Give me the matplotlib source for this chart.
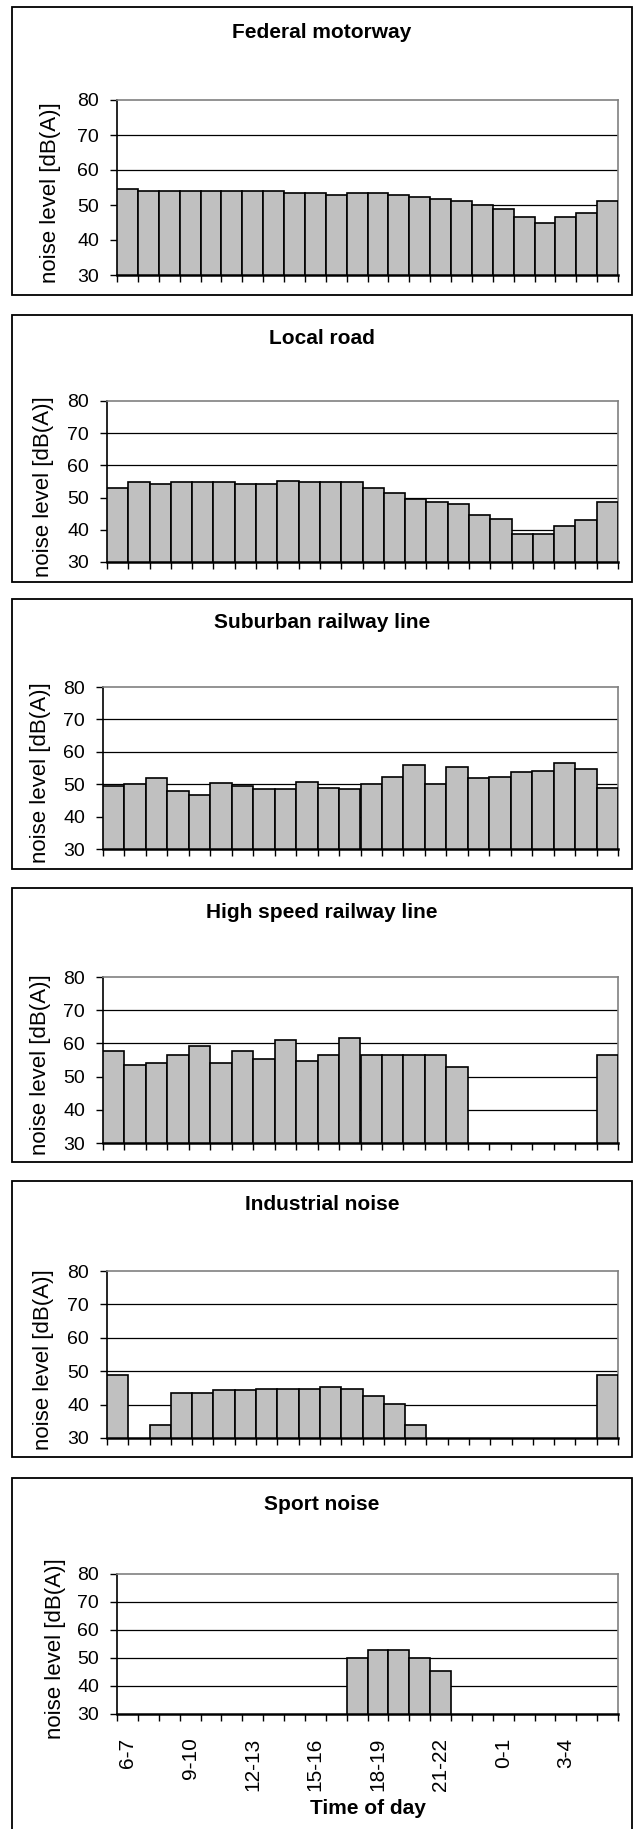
import numpy as np
import matplotlib
matplotlib.use("Agg")
import matplotlib.pyplot as plt
from matplotlib.patches import Rectangle

plt.rcParams['font.family'] = ['Liberation Sans', 'DejaVu Sans']

hours = ['6-7', '7-8', '8-9', '9-10', '10-11', '11-12', '12-13', '13-14', '14-15',
         '15-16', '16-17', '17-18', '18-19', '19-20', '20-21', '21-22', '22-23',
         '23-0', '0-1', '1-2', '2-3', '3-4', '4-5', '5-6']

titles = ['Federal motorway', 'Local road', 'Suburban railway line',
          'High speed railway line', 'Industrial noise', 'Sport noise']

nan = np.nan
federal_motorway = [54.6, 54.0, 54.0, 54.0, 54.0, 54.0, 54.0, 54.1, 53.5, 53.5, 53.0, 53.5,
                    53.5, 53.0, 52.4, 51.8, 51.2, 50.1, 49.0, 46.7, 45.0, 46.7, 47.8, 51.2]
local_road = [53.1, 54.8, 54.3, 54.8, 54.8, 54.8, 54.3, 54.3, 55.3, 54.8, 54.8, 54.8,
              53.1, 51.4, 49.6, 48.6, 48.0, 44.5, 43.3, 38.7, 38.7, 41.1, 42.9, 48.6]
suburban_rail = [49.5, 50.2, 51.8, 47.8, 46.6, 50.3, 49.4, 48.4, 48.4, 50.7, 48.9, 48.4,
                 50.1, 52.3, 55.9, 50.2, 55.2, 51.8, 52.3, 53.7, 54.2, 56.4, 54.7, 48.8]
high_speed_rail = [57.6, 53.6, 54.2, 56.5, 59.3, 54.2, 57.6, 55.3, 61.0, 54.8, 56.5, 61.7,
                   56.5, 56.5, 56.5, 56.5, 53.0, nan, nan, nan, nan, nan, nan, 56.5]
industrial = [48.8, nan, 33.9, 43.6, 43.6, 44.3, 44.3, 44.8, 44.8, 44.8, 45.3, 44.8,
              42.5, 40.2, 33.9, nan, nan, nan, nan, nan, nan, nan, nan, 48.8]
sport = [nan, nan, nan, nan, nan, nan, nan, nan, nan, nan, nan, 50.0,
         53.0, 53.0, 50.0, 45.2, nan, nan, nan, nan, nan, nan, nan, nan]

series = [federal_motorway, local_road, suburban_rail, high_speed_rail, industrial, sport]
yticks = [30, 40, 50, 60, 70, 80]

W, H = 636, 1829
# layout in pixels: panel box (top, bottom), plot area (left, top, bottom), title y, ylabel x
boxes = [(7, 295), (315, 582), (599, 869), (888, 1162), (1181, 1457), (1478, 1840)]
plots = [(117, 100, 275), (107, 401, 562), (103, 687, 849), (103, 977, 1143),
         (107, 1271, 1438), (117, 1574, 1714)]
title_y = [32, 338, 623, 913, 1205, 1505]
ylab_x = [51, 44, 41, 41, 44, 55]
plot_right = 618
box_l, box_r = 12, 632

fig = plt.figure(figsize=(W / 100, H / 100), dpi=100)

for i in range(6):
    bt, bb = boxes[i]
    fig.patches.append(Rectangle((box_l / W, 1 - bb / H), (box_r - box_l) / W, (bb - bt) / H,
                                 transform=fig.transFigure, fill=False, ec='black', lw=1.3))
    l, t, b = plots[i]
    ax = fig.add_axes([l / W, 1 - b / H, (plot_right - l) / W, (b - t) / H])
    vals = np.array(series[i], dtype=float)
    x = np.arange(len(hours)) + 0.5
    m = ~np.isnan(vals)
    ax.bar(x[m], vals[m], width=1.0, color='#C0C0C0', edgecolor='black', linewidth=1.2, zorder=3)
    ax.set_xlim(0, len(hours))
    ax.set_ylim(30, 80)
    ax.set_yticks(yticks)
    ax.set_yticklabels([str(v) for v in yticks], fontsize=14)
    for v in yticks[1:-1]:
        ax.axhline(v, color='black', lw=0.9, zorder=1)
    ax.spines['top'].set_color('#808080')
    ax.spines['right'].set_color('#808080')
    ax.spines['top'].set_linewidth(1.2)
    ax.spines['right'].set_linewidth(1.2)
    ax.spines['left'].set_linewidth(1.2)
    ax.spines['bottom'].set_linewidth(1.8)
    ax.spines['bottom'].set_zorder(5)
    ax.tick_params(axis='y', length=5, width=1.0, pad=8, direction='out')
    ax.set_xticks(np.arange(len(hours) + 1))
    ax.set_xticklabels([])
    ax.tick_params(axis='x', which='major', length=5, width=1.0, direction='out')
    if i == 5:
        ax.set_xticks(x[::3], minor=True)
        ax.set_xticklabels(hours[::3], minor=True, rotation=90, fontsize=15)
        ax.tick_params(axis='x', which='minor', length=0, pad=17)
        fig.text(((l + plot_right) / 2) / W, 1 - 1808 / H, 'Time of day', ha='center',
                 va='center', fontsize=15, fontweight='bold')
    fig.text(((box_l + box_r) / 2) / W, 1 - title_y[i] / H, titles[i], ha='center',
             va='center', fontsize=15, fontweight='bold')
    fig.text(ylab_x[i] / W, 1 - ((t + b) / 2 + 5) / H, 'noise level [dB(A)]', rotation=90,
             ha='center', va='center', fontsize=16)

fig.savefig('out.png', dpi=100, facecolor='white')
